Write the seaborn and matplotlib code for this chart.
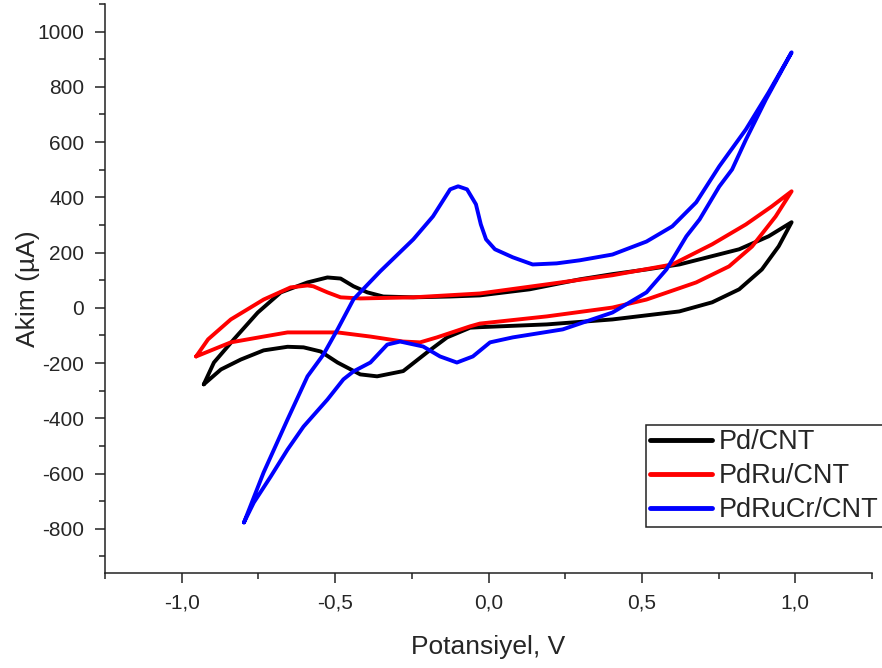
import matplotlib
matplotlib.use("Agg")
import matplotlib.pyplot as plt
import seaborn as sns
import pandas as pd
from matplotlib.ticker import MultipleLocator, FuncFormatter

# ---- data ----
series_names = ["Pd/CNT", "PdRu/CNT", "PdRuCr/CNT"]
series_colors = ["#000000", "#ff0000", "#0000ff"]

# Pd/CNT: anodic sweep then cathodic sweep
pd_fwd_v = [-0.928, -0.895, -0.830, -0.752, -0.677, -0.590, -0.525, -0.482, -0.440, -0.395,
            -0.343, -0.245, -0.125, -0.028, 0.134, 0.297, 0.404, 0.515, 0.622, 0.817, 0.913, 0.988]
pd_fwd_i = [-277, -198, -114, -17, 56, 92, 110, 106, 78, 56,
            41, 38, 41, 45, 67, 103, 122, 139, 157, 212, 259, 310]
pd_rev_v = [0.988, 0.946, 0.891, 0.817, 0.729, 0.622, 0.404, 0.190, -0.028, -0.060, -0.135,
            -0.200, -0.278, -0.363, -0.418, -0.492, -0.547, -0.603, -0.655, -0.733, -0.807,
            -0.872, -0.928]
pd_rev_i = [310, 223, 139, 67, 20, -13, -42, -60, -70, -72, -107,
            -161, -229, -248, -241, -198, -158, -143, -141, -154, -187,
            -223, -277]

# PdRu/CNT
pdru_fwd_v = [-0.953, -0.914, -0.840, -0.733, -0.645, -0.590, -0.571, -0.525, -0.482, -0.418,
              -0.245, -0.028, 0.190, 0.404, 0.599, 0.729, 0.839, 0.923, 0.988]
pdru_fwd_i = [-176, -114, -42, 30, 74, 81, 78, 56, 38, 34,
              38, 52, 85, 118, 157, 230, 302, 367, 422]
pdru_rev_v = [0.988, 0.936, 0.859, 0.784, 0.677, 0.515, 0.404, 0.190, -0.028, -0.060,
              -0.168, -0.223, -0.278, -0.385, -0.492, -0.655, -0.733, -0.840, -0.953]
pdru_rev_i = [422, 331, 222, 150, 92, 30, 1, -31, -57, -67,
              -107, -125, -122, -104, -89, -89, -104, -125, -176]

# PdRuCr/CNT
pdrucr_fwd_v = [-0.797, -0.733, -0.655, -0.590, -0.538, -0.492, -0.440, -0.353, -0.245, -0.181,
                -0.125, -0.099, -0.070, -0.041, -0.025, -0.008, 0.021, 0.079, 0.144, 0.222,
                0.297, 0.404, 0.515, 0.599, 0.677, 0.752, 0.839, 0.913, 0.988]
pdrucr_fwd_i = [-777, -596, -404, -248, -169, -78, 31, 132, 248, 331,
                429, 440, 429, 375, 302, 248, 212, 183, 157, 161,
                172, 193, 240, 295, 382, 512, 646, 780, 925]
pdrucr_rev_v = [0.988, 0.904, 0.839, 0.794, 0.752, 0.688, 0.645, 0.580, 0.515, 0.404,
                0.242, 0.079, 0.005, -0.051, -0.103, -0.158, -0.213, -0.288, -0.330, -0.385,
                -0.440, -0.473, -0.525, -0.603, -0.655, -0.710, -0.765, -0.797]
pdrucr_rev_i = [925, 754, 609, 501, 439, 320, 259, 139, 56, -17,
                -78, -107, -125, -176, -198, -176, -140, -122, -133, -198,
                -230, -259, -332, -430, -513, -611, -705, -777]

x_tick_values = [-1.0, -0.5, 0.0, 0.5, 1.0]
y_tick_values = [-800, -600, -400, -200, 0, 200, 400, 600, 800, 1000]

# ---- build long table ----
loops = [
    (series_names[0], pd_fwd_v + pd_rev_v, pd_fwd_i + pd_rev_i),
    (series_names[1], pdru_fwd_v + pdru_rev_v, pdru_fwd_i + pdru_rev_i),
    (series_names[2], pdrucr_fwd_v + pdrucr_rev_v, pdrucr_fwd_i + pdrucr_rev_i),
]
frames = []
for name, v, i in loops:
    frames.append(pd.DataFrame({"Potansiyel": v, "Akim": i, "Sample": name}))
df = pd.concat(frames, ignore_index=True)

# ---- style ----
sns.set_style("ticks")
plt.rcParams["font.family"] = ["Liberation Sans", "DejaVu Sans"]

fig = plt.figure(figsize=(8.82, 6.68), dpi=100)
ax = fig.add_axes([105 / 882, 1 - 573 / 668, (872 - 105) / 882, (573 - 4) / 668])

sns.lineplot(data=df, x="Potansiyel", y="Akim", hue="Sample",
             hue_order=series_names, palette=dict(zip(series_names, series_colors)),
             sort=False, estimator=None, linewidth=2.8, ax=ax)

ax.set_xlim(-1.25, 1.25)
ax.set_ylim(-960, 1100)

ax.set_xticks(x_tick_values)
ax.set_yticks(y_tick_values)
ax.xaxis.set_minor_locator(MultipleLocator(0.25))
ax.yaxis.set_minor_locator(MultipleLocator(100))


def xfmt(v, _):
    if abs(v) < 1e-9:
        v = 0.0
    return f"{v:.1f}".replace(".", ",")


ax.xaxis.set_major_formatter(FuncFormatter(xfmt))
ax.yaxis.set_major_formatter(FuncFormatter(lambda v, _: f"{int(round(v))}"))

for side in ["top", "right"]:
    ax.spines[side].set_visible(False)
for side in ["left", "bottom"]:
    ax.spines[side].set_linewidth(1.1)
    ax.spines[side].set_color("#222222")

ax.tick_params(which="major", direction="out", length=7, width=1.1, labelsize=15,
               pad=8, color="#222222")
ax.tick_params(which="minor", direction="out", length=4.5, width=1.1, color="#222222")

ax.set_xlabel("Potansiyel, V", fontsize=19, labelpad=16)
ax.set_ylabel("Akim (µA)", fontsize=19, labelpad=-2)

handles, labels = ax.get_legend_handles_labels()
leg = ax.legend(handles, labels, loc="upper left", bbox_to_anchor=(0.705, 0.26),
                fontsize=19.5, frameon=True, fancybox=False, edgecolor="#222222",
                framealpha=1, handlelength=2.3, handletextpad=0.25, labelspacing=0.3,
                borderpad=0.15, borderaxespad=0)
leg.get_frame().set_linewidth(1.1)
for line in leg.get_lines():
    line.set_linewidth(3.5)

fig.savefig("out.png", dpi=100)
